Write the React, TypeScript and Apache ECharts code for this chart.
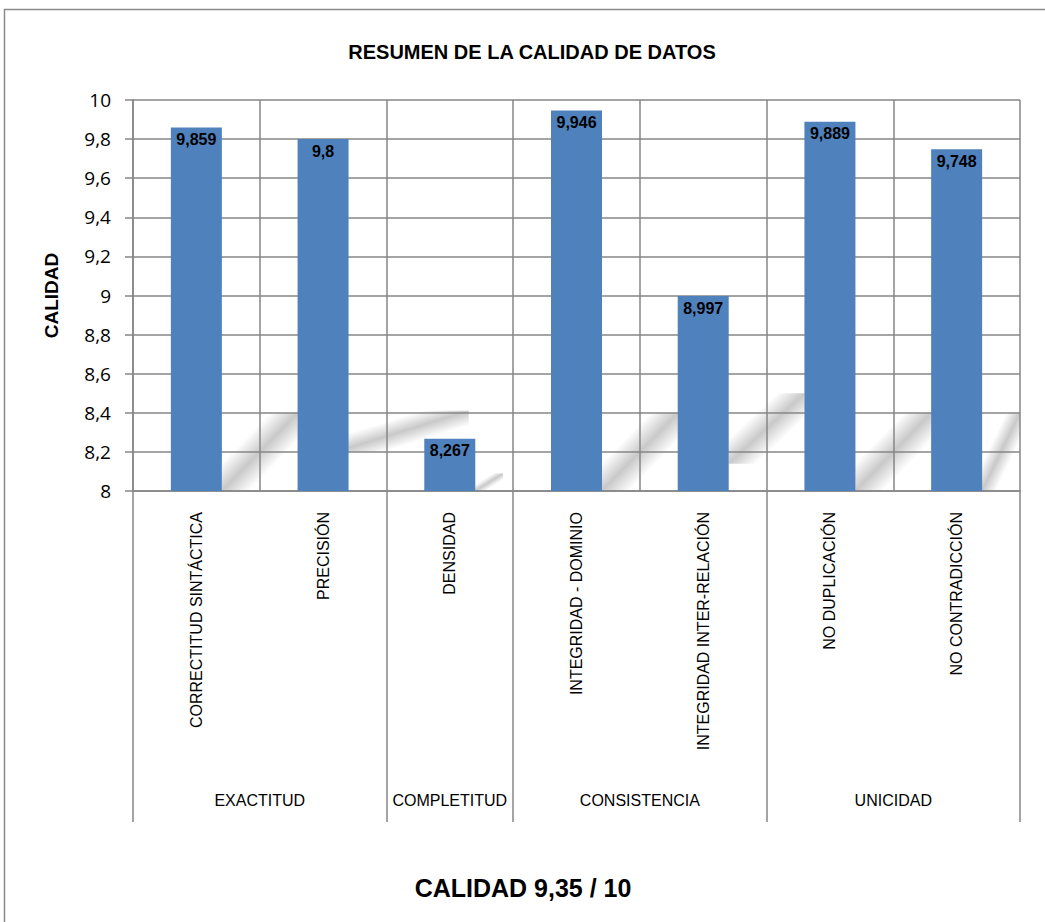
import React, { useEffect, useRef } from "react";
import * as echarts from "echarts";

const categories = [
  "CORRECTITUD SINTÁCTICA",
  "PRECISIÓN",
  "DENSIDAD",
  "INTEGRIDAD - DOMINIO",
  "INTEGRIDAD INTER-RELACIÓN",
  "NO DUPLICACIÓN",
  "NO CONTRADICCIÓN",
];
const values = [9.859, 9.8, 8.267, 9.946, 8.997, 9.889, 9.748];
const groupNames = ["EXACTITUD", "COMPLETITUD", "CONSISTENCIA", "UNICIDAD"];
const groupSizes = [2, 1, 2, 2];
const titleText = "RESUMEN DE LA CALIDAD DE DATOS";
const yAxisName = "CALIDAD";
const footerText = "CALIDAD 9,35 / 10";

// soft diagonal floor shading between the bars: [fromCategory, toCategory, fromValue, toValue]
const floorShades: [number, number, number, number][] = [
  [0.2, 0.8, 8.0, 8.4],
  [1.1, 2.15, 8.2, 8.41],
  [2.2, 2.42, 8.0, 8.09],
  [3.2, 3.8, 8.0, 8.4],
  [4.2, 4.8, 8.14, 8.5],
  [5.2, 5.8, 8.0, 8.4],
  [6.2, 6.5, 8.0, 8.4],
];

const comma = (v: number) => String(v).replace(".", ",");

export default function App() {
  const ref = useRef<HTMLDivElement>(null);

  useEffect(() => {
    if (!ref.current) return;
    const chart = echarts.init(ref.current, undefined, { renderer: "svg" });

    // group boundaries and centres on a 0..n scale for the second axis
    const bounds: number[] = [0];
    const centres: number[] = [];
    let acc = 0;
    groupSizes.forEach((n) => {
      centres.push(acc + n / 2);
      acc += n;
      bounds.push(acc);
    });

    const gray = "#868686";
    const sans = "Liberation Sans, Arial, sans-serif";

    const shadeFill = new echarts.graphic.LinearGradient(0, 0, 1, 1, [
      { offset: 0, color: "rgba(120,120,120,0)" },
      { offset: 0.32, color: "rgba(120,120,120,0)" },
      { offset: 0.5, color: "rgba(120,120,120,0.4)" },
      { offset: 0.68, color: "rgba(120,120,120,0)" },
      { offset: 1, color: "rgba(120,120,120,0)" },
    ]);

    chart.setOption({
      animation: false,
      backgroundColor: "#ffffff",
      title: {
        text: titleText,
        left: 527,
        textAlign: "center",
        top: 37,
        textStyle: { fontFamily: sans, fontWeight: "bold", fontSize: 20, color: "#000" },
      },
      grid: { left: 133, right: 25, top: 100, bottom: 431, containLabel: false },
      xAxis: [
        {
          type: "category",
          z: 10,
          data: categories,
          axisLine: { show: true, lineStyle: { color: gray, width: 1.5 } },
          axisTick: { show: false },
          splitLine: { show: true, interval: 0, lineStyle: { color: gray, width: 1.5 } },
          axisLabel: {
            interval: 0,
            rotate: 90,
            margin: 21,
            fontFamily: sans,
            fontSize: 16,
            color: "#000",
          },
        },
        {
          type: "value",
          z: 10,
          min: 0,
          max: categories.length,
          position: "bottom",
          axisLine: { show: false },
          splitLine: { show: false },
          axisTick: {
            show: true,
            customValues: bounds,
            length: 331,
            lineStyle: { color: gray, width: 1.5 },
          },
          axisLabel: {
            show: true,
            customValues: centres,
            margin: 301,
            fontFamily: sans,
            fontSize: 16,
            color: "#000",
            formatter: (v: number) => {
              const i = centres.findIndex((c) => Math.abs(c - v) < 1e-6);
              return i >= 0 ? groupNames[i] : "";
            },
          },
        },
      ],
      yAxis: {
        type: "value",
        z: 10,
        min: 8,
        max: 10,
        interval: 0.2,
        name: yAxisName,
        nameLocation: "middle",
        nameRotate: 90,
        nameGap: 72,
        nameTextStyle: { fontFamily: sans, fontWeight: "bold", fontSize: 19, color: "#000" },
        axisLine: { show: true, lineStyle: { color: gray, width: 1.5 } },
        axisTick: { show: true, length: 8, lineStyle: { color: gray, width: 1.5 } },
        splitLine: { show: true, lineStyle: { color: gray, width: 1.5 } },
        axisLabel: {
          margin: 22,
          fontFamily: "Open Sans, Noto Sans, sans-serif",
          fontSize: 19,
          color: "#000",
          formatter: (v: number) => comma(Math.round(v * 10) / 10),
        },
      },
      series: [
        {
          // floor shading beneath the grid lines, on the 0..n value axis (category c centre = c + 0.5)
          type: "custom",
          xAxisIndex: 1,
          yAxisIndex: 0,
          z: 1,
          silent: true,
          data: floorShades,
          renderItem: (_params: any, api: any) => {
            const c0 = api.value(0) + 0.5;
            const c1 = api.value(1) + 0.5;
            const p0 = api.coord([c0, api.value(3)]);
            const p1 = api.coord([c1, api.value(2)]);
            return {
              type: "rect",
              shape: { x: p0[0], y: p0[1], width: p1[0] - p0[0], height: p1[1] - p0[1] },
              style: { fill: shadeFill },
            };
          },
        },
        {
          type: "bar",
          xAxisIndex: 0,
          data: values,
          barWidth: 51,
          z: 12,
          itemStyle: { color: "#4F81BD" },
          label: {
            show: true,
            position: "insideTop",
            distance: 4,
            fontFamily: sans,
            fontWeight: "bold",
            fontSize: 16,
            color: "#000",
            formatter: (p: any) => comma(p.value),
          },
        },
      ],
      graphic: [
        {
          type: "rect",
          silent: true,
          shape: { x: 4.5, y: 9.5, width: 1100, height: 1000 },
          style: { fill: "none", stroke: "#8a8a8a", lineWidth: 1.5 },
        },
        {
          type: "text",
          x: 523,
          y: 888,
          style: {
            text: footerText,
            fontFamily: sans,
            fontWeight: "bold",
            fontSize: 25,
            fill: "#000",
            textAlign: "center",
            textVerticalAlign: "middle",
          },
        },
      ],
    });

    return () => chart.dispose();
  }, []);

  return (
    <div
      ref={ref}
      style={{ position: "fixed", left: 0, top: 0, width: 1045, height: 922 }}
    />
  );
}
